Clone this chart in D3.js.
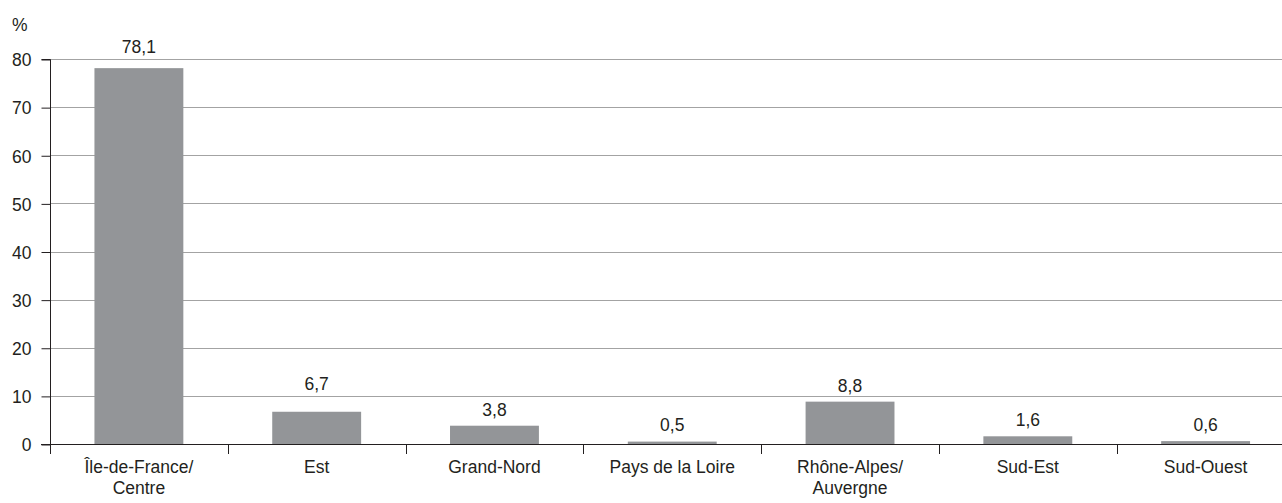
<!DOCTYPE html>
<html><head><meta charset="utf-8">
<script src="https://cdn.jsdelivr.net/npm/d3@7"></script>
<style>
body{margin:0;background:#fff;}
svg text{font-family:"Liberation Sans",Arial,Helvetica,sans-serif;fill:#231f20;}
</style></head>
<body>
<svg id="c" width="1282" height="503"></svg>
<script>
const categories = [["Île-de-France/","Centre"],["Est"],["Grand-Nord"],["Pays de la Loire"],["Rhône-Alpes/","Auvergne"],["Sud-Est"],["Sud-Ouest"]];
const values = [78.1, 6.7, 3.8, 0.5, 8.8, 1.6, 0.6];
const valueLabels = ["78,1","6,7","3,8","0,5","8,8","1,6","0,6"];
const yTicks = [0,10,20,30,40,50,60,70,80];
const yUnit = "%";

const FS = 17.5;
const svg = d3.select("#c");
const x0 = 50, x1 = 1294.5, yBase = 444, yTop = 59;
const keys = categories.map((c,i)=>i);
const x = d3.scaleBand().domain(keys).range([x0,x1]).paddingInner(0.5).paddingOuter(0.25);
const y = d3.scaleLinear().domain([0,80]).range([yBase,yTop]);

// gridlines
svg.append("g").selectAll("line").data(yTicks.filter(t=>t>0)).join("line")
  .attr("x1",x0).attr("x2",1282).attr("y1",d=>Math.round(y(d))+0.5).attr("y2",d=>Math.round(y(d))+0.5)
  .attr("stroke","#a3a3a3").attr("stroke-width",1);

// bars
svg.append("g").selectAll("rect").data(values).join("rect")
  .attr("x",(d,i)=>x(i)).attr("width",x.bandwidth())
  .attr("y",d=>y(d)).attr("height",d=>y(0)-y(d))
  .attr("fill","#939598");

// value labels (kept clear of gridlines)
function labelY(v){
  let ly = Math.min(y(v) - 10, 431);
  yTicks.forEach(t=>{ const gy = y(t); if (t>0 && gy > ly - 13 && gy < ly + 3) ly = gy - 6; });
  return ly;
}
svg.append("g").selectAll("text").data(values).join("text")
  .attr("x",(d,i)=>x(i)+x.bandwidth()/2).attr("y",d=>labelY(d))
  .attr("text-anchor","middle").attr("font-size",FS).text((d,i)=>valueLabels[i]);

// y axis
const yAxis = d3.axisLeft(y).tickValues(yTicks).tickSize(9).tickPadding(10).tickFormat(d=>d);
const gy = svg.append("g").attr("transform",`translate(${x0+0.5},0.5)`).call(yAxis);
gy.attr("font-family",null).attr("font-size",null);
gy.select(".domain").attr("stroke","#231f20").attr("d",`M-9,${yTop}H0V${yBase}`);
gy.selectAll(".tick line").attr("stroke","#231f20");
gy.selectAll(".tick text").attr("font-size",FS).attr("fill","#231f20").attr("dy","0.36em");

// x axis baseline and ticks
const xt = d3.scaleLinear().domain([0,7]).range([x0,x1]);
svg.append("line").attr("x1",x0-9).attr("x2",1282).attr("y1",yBase+0.5).attr("y2",yBase+0.5).attr("stroke","#231f20");
svg.append("g").selectAll("line").data(d3.range(7)).join("line")
  .attr("x1",d=>Math.round(xt(d))+0.5).attr("x2",d=>Math.round(xt(d))+0.5)
  .attr("y1",yBase).attr("y2",yBase+10).attr("stroke","#231f20");

// category labels
const cl = svg.append("g").selectAll("text").data(categories).join("text")
  .attr("text-anchor","middle").attr("font-size",FS)
  .attr("transform",(d,i)=>`translate(${x(i)+x.bandwidth()/2},473)`);
cl.selectAll("tspan").data(d=>d).join("tspan")
  .attr("x",0).attr("dy",(d,j)=>j?21:0).text(d=>d);

// unit
svg.append("text").attr("x",12).attr("y",31).attr("font-size",FS).text(yUnit);
</script>
</body></html>
